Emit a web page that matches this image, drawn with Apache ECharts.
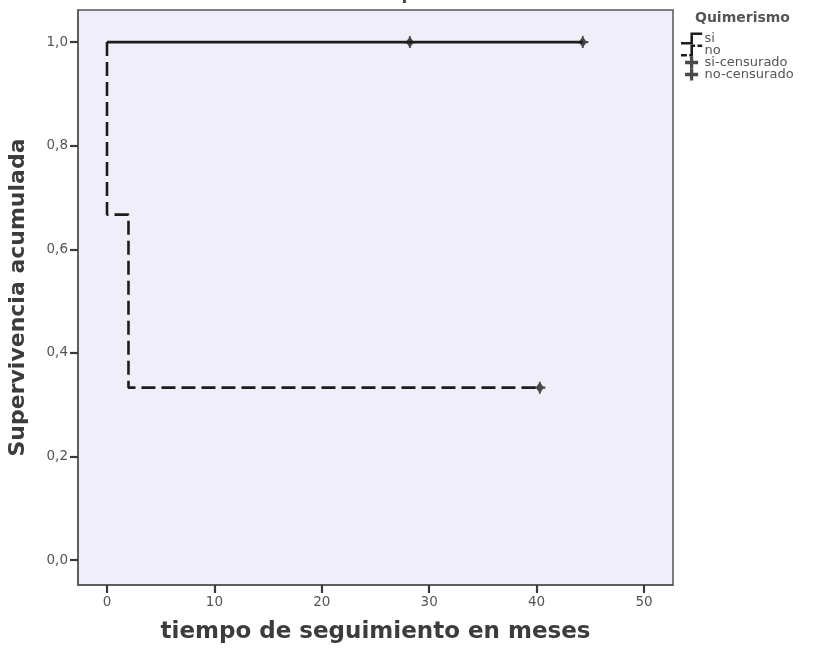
<!DOCTYPE html>
<html>
<head>
<meta charset="utf-8">
<script src="https://cdn.jsdelivr.net/npm/echarts@6/dist/echarts.min.js"></script>
<style>
  html, body { margin: 0; padding: 0; background: #ffffff; }
  #chart { width: 820px; height: 650px; }
</style>
</head>
<body>
<div id="chart"></div>
<script>
// Kaplan-Meier survival by chimerism group
const xTicks = [0, 10, 20, 30, 40, 50];
const yTicks = [0, 0.2, 0.4, 0.6, 0.8, 1.0];

// "si" group: no events, survival stays at 1
const siTime = [0, 44.3];
const siSurv = [1.0, 1.0];
const siCensTime = [28.2, 44.3];
const siCensSurv = [1.0, 1.0];

// "no" group: drops at t=0 and t=2
const noTime = [0, 0, 2, 40.3];
const noSurv = [1.0, 0.667, 0.333, 0.333];
const noCensTime = [40.3];
const noCensSurv = [0.333];

const pair = (xs, ys) => xs.map((x, i) => [x, ys[i]]);

const crossPath = 'path://M0,4 L12,4 L12,7 L0,7 Z M4.5,0 L7.5,0 L7.5,11 L4.5,11 Z';
const censorMark = 'path://M0,4.5 L2.5,4.5 L5,1.5 L5,0 L7,0 L7,1.5 L9.5,4.5 L12,4.5 L12,6.5 L9.5,6.5 L7,9.5 L7,11 L5,11 L5,9.5 L2.5,6.5 L0,6.5 Z';
const stepSolid = 'path://M0,9 L8,9 L8,1 L18,1 L18,3.2 L10.2,3.2 L10.2,11.2 L0,11.2 Z';
const stepDash = 'path://M0,9 L5,9 L5,11.2 L0,11.2 Z M7,9 L8,9 L8,1 L12,1 L12,3.2 L10.2,3.2 L10.2,11.2 L7,11.2 Z M14,1 L18,1 L18,3.2 L14,3.2 Z';

const lineColor = '#1c1c1c';
const axisColor = '#555555';
const tickColor = '#3a3a3a';
const fontFam = '"DejaVu Sans", sans-serif';

const chart = echarts.init(document.getElementById('chart'));
chart.setOption({
  backgroundColor: '#ffffff',
  animation: false,
  title: [
    {
      text: 'Funciones de supervivencia',
      left: 375, top: -19, textAlign: 'center',
      textStyle: { fontFamily: fontFam, fontSize: 17, fontWeight: 'bold', color: '#444' }
    },
    {
      text: 'Quimerismo',
      left: 690, top: 6,
      textStyle: { fontFamily: fontFam, fontSize: 14, fontWeight: 'bold', color: '#555' }
    }
  ],
  legend: {
    orient: 'vertical',
    left: 676, top: 27,
    itemGap: -1,
    itemWidth: 22, itemHeight: 12,
    textStyle: { fontFamily: fontFam, fontSize: 13, color: '#555', padding: [0, 0, 0, -3] },
    data: [
      { name: 'si', icon: stepSolid },
      { name: 'no', icon: stepDash },
      { name: 'si-censurado', icon: crossPath },
      { name: 'no-censurado', icon: crossPath }
    ]
  },
  grid: {
    left: 78, right: 147, top: 10, bottom: 65,
    outerBoundsMode: 'none',
    containLabel: false,
    show: true,
    backgroundColor: '#f0eef8',
    borderColor: axisColor,
    borderWidth: 1.5
  },
  xAxis: {
    type: 'value',
    position: 'bottom',
    min: -2.7, max: 52.7,
    name: 'tiempo de seguimiento en meses',
    nameLocation: 'middle',
    nameGap: 36,
    nameTextStyle: { fontFamily: fontFam, fontSize: 23, fontWeight: 'bold', color: '#3c3c3c' },
    axisLine: { show: true, onZero: false, lineStyle: { color: axisColor, width: 1.5 } },
    splitLine: { show: false },
    axisTick: { show: true, inside: false, length: 8, customValues: xTicks, lineStyle: { color: tickColor, width: 2.2 } },
    axisLabel: { customValues: xTicks, fontFamily: fontFam, fontSize: 13.5, color: '#555', margin: 10 }
  },
  yAxis: {
    type: 'value',
    position: 'left',
    min: -0.048, max: 1.062,
    name: 'Supervivencia acumulada',
    nameLocation: 'middle',
    nameGap: 49,
    nameTextStyle: { fontFamily: fontFam, fontSize: 22, fontWeight: 'bold', color: '#3c3c3c' },
    axisLine: { show: true, onZero: false, lineStyle: { color: axisColor, width: 1.5 } },
    splitLine: { show: false },
    axisTick: { show: true, inside: false, length: 8, customValues: yTicks, lineStyle: { color: tickColor, width: 2.2 } },
    axisLabel: {
      customValues: yTicks, fontFamily: fontFam, fontSize: 13.5, color: '#555', margin: 10,
      formatter: v => v.toFixed(1).replace('.', ',')
    }
  },
  series: [
    {
      name: 'si', type: 'line', step: 'end', showSymbol: false,
      data: pair(siTime, siSurv),
      lineStyle: { color: lineColor, width: 2.6 },
      itemStyle: { color: lineColor }
    },
    {
      name: 'no', type: 'line', step: 'end', showSymbol: false,
      data: pair(noTime, noSurv),
      lineStyle: { color: lineColor, width: 2.6, type: [14, 6] },
      itemStyle: { color: lineColor }
    },
    {
      name: 'si-censurado', type: 'scatter',
      data: pair(siCensTime, siCensSurv),
      symbol: censorMark, symbolSize: [11, 12],
      itemStyle: { color: lineColor }
    },
    {
      name: 'no-censurado', type: 'scatter',
      data: pair(noCensTime, noCensSurv),
      symbol: censorMark, symbolSize: [11, 12],
      itemStyle: { color: lineColor }
    }
  ]
});
</script>
</body>
</html>
